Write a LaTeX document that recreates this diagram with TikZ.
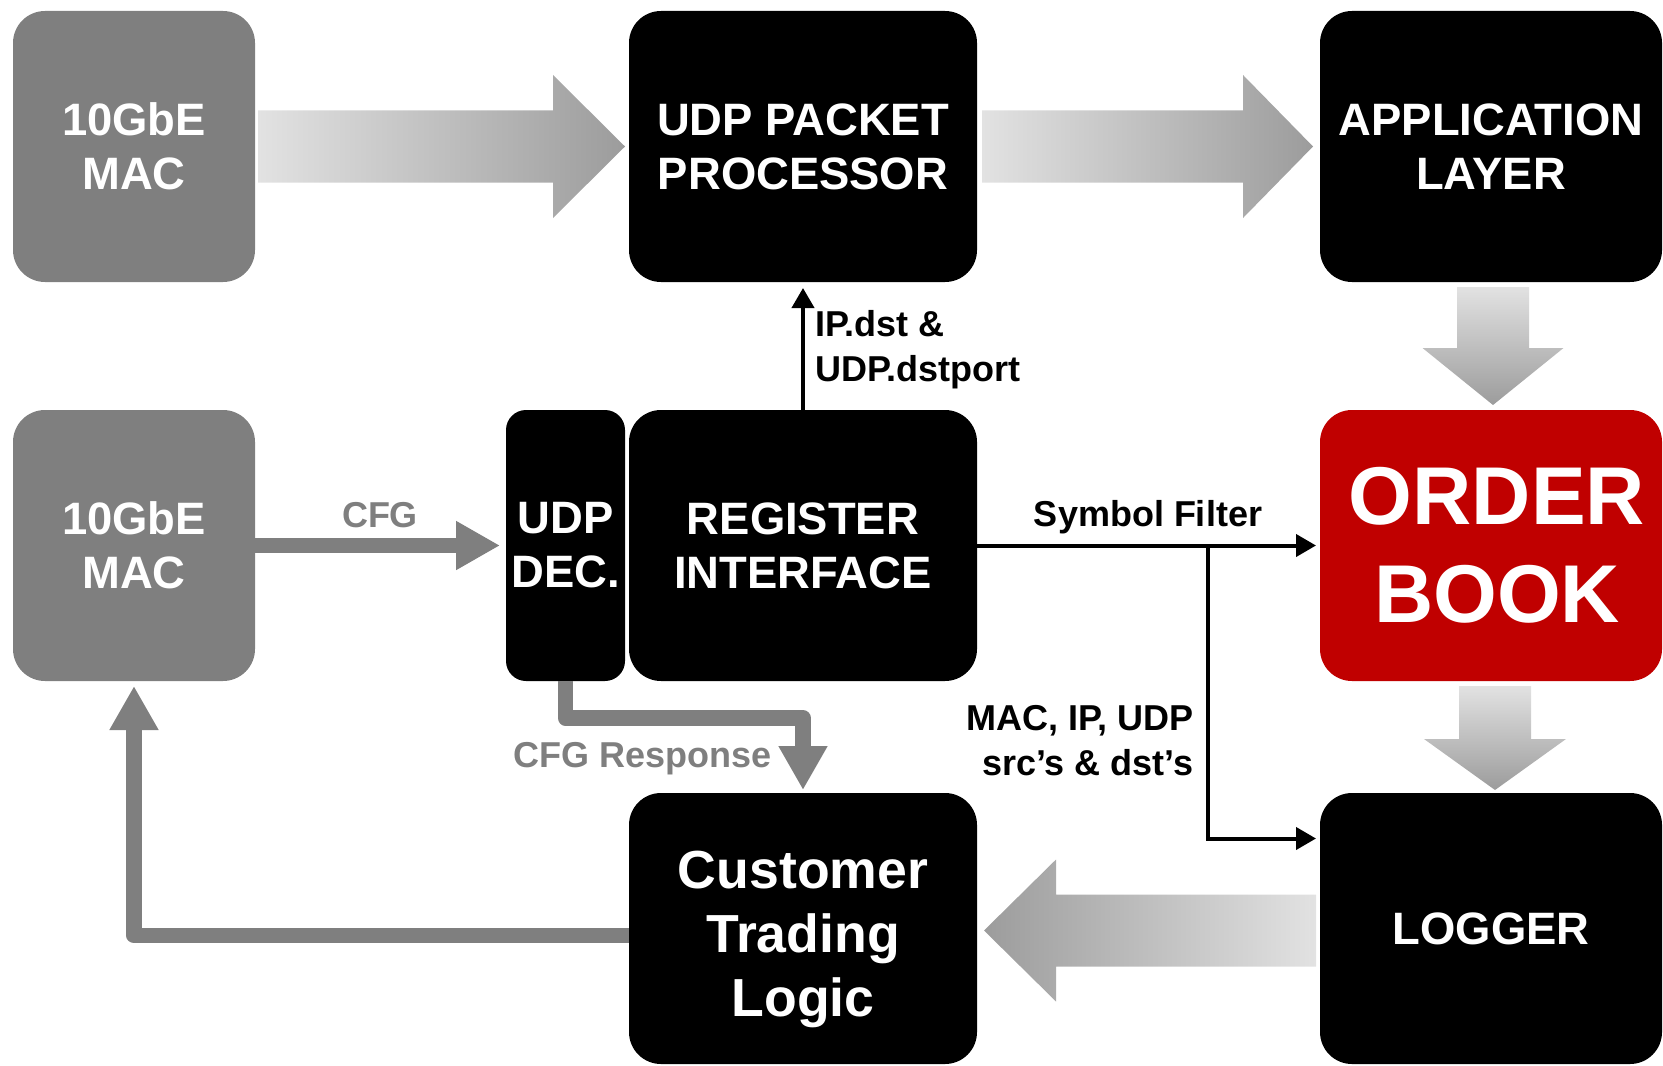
\documentclass[tikz,border=0pt]{standalone}
\usepackage{fontspec}
\setmainfont{Liberation Sans}
\usetikzlibrary{arrows.meta,calc}
\definecolor{macgray}{HTML}{7F7F7F}
\definecolor{obred}{HTML}{C00000}
\definecolor{fatlight}{HTML}{E2E2E2}
\definecolor{fatdark}{HTML}{9C9C9C}
\newcommand\bxfont{\fontsize{22.7}{27}\selectfont\bfseries}
\newcommand\lblfont{\fontsize{18}{22.5}\selectfont\bfseries}

\begin{document}
\begin{tikzpicture}[x=0.5pt,y=-0.5pt,
  blk/.style={rounded corners=16pt, inner sep=0pt, outer sep=0pt,
    minimum height=135.5pt, align=center, text=white, font=\bxfont, fill=black},
  blktext/.style={inner sep=0pt, align=center, text=white},
  colA/.style={minimum width=121pt},
  colB/.style={minimum width=174pt},
  colC/.style={minimum width=171pt},
  sigarrow/.style={draw=black, line width=2pt, -{Triangle[length=10pt,width=11pt]}},
  cfgarrow/.style={draw=macgray, line width=7.75pt, line join=round,
    -{Triangle[length=22pt,width=23pt]}},
  lbl/.style={font=\lblfont, inner sep=0pt},
]
\useasboundingbox (0,0) rectangle (1663,1065);

% blocks
\node[blk, colA, fill=macgray] (mac1) at (134,146.5) {10GbE\\MAC};
\node[blk, colB] (udppp) at (803,146.5) {UDP PACKET\\PROCESSOR};
\node[blk, colC] (app) at (1491,146.5) {APPLICATION\\LAYER};
\node[blk, colA, fill=macgray] (mac2) at (134,545.5) {10GbE\\MAC};
\node[blk, minimum width=59.5pt, rounded corners=10pt] (dec) at (565.5,545.5) {UDP\\DEC.};
\node[blk, colB] (regif) at (803,545.5) {REGISTER\\INTERFACE};
\node[blk, colC, fill=obred] (ob) at (1491,545.5) {};
\node[blktext, font=\fontsize{41}{49}\selectfont\bfseries] (obtext)
  at ($(ob.center)+(6,0)$) {ORDER\\BOOK};
\node[blk, colB] (cust) at (803,928.5) {};
\node[blktext, font=\fontsize{26.8}{32}\selectfont\bfseries] (custtext)
  at ($(cust.center)+(0,11)$) {Customer\\Trading\\Logic};
\node[blk, colC] (logger) at (1491,928.5) {LOGGER};

% wide shaded data-path arrows
\shade[left color=fatlight, right color=fatdark]
  let \p1=($(mac1.east)+(3,0)$), \p2=($(udppp.west)+(-4,0)$) in
  (\x1,\y1+18pt) -- (\x2-36pt,\y1+18pt) -- (\x2-36pt,\y1+35.75pt) -- (\x2,\y1)
  -- (\x2-36pt,\y1-35.75pt) -- (\x2-36pt,\y1-18pt) -- (\x1,\y1-18pt) -- cycle;
\shade[left color=fatlight, right color=fatdark]
  let \p1=($(udppp.east)+(5,0)$), \p2=($(app.west)+(-7,0)$) in
  (\x1,\y1+18pt) -- (\x2-35pt,\y1+18pt) -- (\x2-35pt,\y1+35.75pt) -- (\x2,\y1)
  -- (\x2-35pt,\y1-35.75pt) -- (\x2-35pt,\y1-18pt) -- (\x1,\y1-18pt) -- cycle;
\shade[top color=fatlight, bottom color=fatdark]
  let \p1=($(app.south)+(2,5)$), \p2=($(ob.north)+(2,-5)$) in
  (\x1-18pt,\y1) -- (\x1-18pt,\y2+28.5pt) -- (\x1-35.25pt,\y2+28.5pt) -- (\x1,\y2)
  -- (\x1+35.25pt,\y2+28.5pt) -- (\x1+18pt,\y2+28.5pt) -- (\x1+18pt,\y1) -- cycle;
\shade[top color=fatlight, bottom color=fatdark]
  let \p1=($(ob.south)+(4,5)$), \p2=($(logger.north)+(4,-3)$) in
  (\x1-18pt,\y1) -- (\x1-18pt,\y2+25.5pt) -- (\x1-35.5pt,\y2+25.5pt) -- (\x1,\y2)
  -- (\x1+35.5pt,\y2+25.5pt) -- (\x1+18pt,\y2+25.5pt) -- (\x1+18pt,\y1) -- cycle;
\shade[left color=fatdark, right color=fatlight]
  let \p1=($(logger.west)+(-4,2)$), \p2=($(cust.east)+(7,2)$) in
  (\x1,\y1+18pt) -- (\x2+36pt,\y1+18pt) -- (\x2+36pt,\y1+35.5pt) -- (\x2,\y1)
  -- (\x2+36pt,\y1-35.5pt) -- (\x2+36pt,\y1-18pt) -- (\x1,\y1-18pt) -- cycle;

% configuration path
\draw[cfgarrow, shorten >=3pt] (mac2.east) -- (dec.west);
\draw[cfgarrow, shorten >=1.5pt] (dec.south) -- ++(0,37) -| (cust.north);
\draw[cfgarrow, shorten >=2.5pt] ($(cust.west)+(0,7)$) -| (mac2.south);

% register signals
\draw[sigarrow, shorten >=3pt] (regif.north) -- (udppp.south);
\draw[sigarrow, shorten >=2pt] (regif.east) -- (ob.west);
\coordinate (br) at ($(regif.east)!0.673!(ob.west)$);
\draw[sigarrow, shorten >=2pt] (br) |- ($(logger.west)+(0,-90)$);

% labels
\node[lbl, text=macgray] (cfglbl) at (380,515) {CFG};
\node[lbl, text=macgray] (resplbl) at (643,759) {CFG Response};
\node[lbl, anchor=west, align=left] (iplbl) at (815,349.5) {IP.dst \&\\UDP.dstport};
\node[lbl] (symlbl) at (1148,517) {Symbol Filter};
\node[lbl, anchor=east, align=right] (maclbl) at (1194,740.5) {MAC, IP, UDP\\src’s \& dst’s};
\end{tikzpicture}
\end{document}
